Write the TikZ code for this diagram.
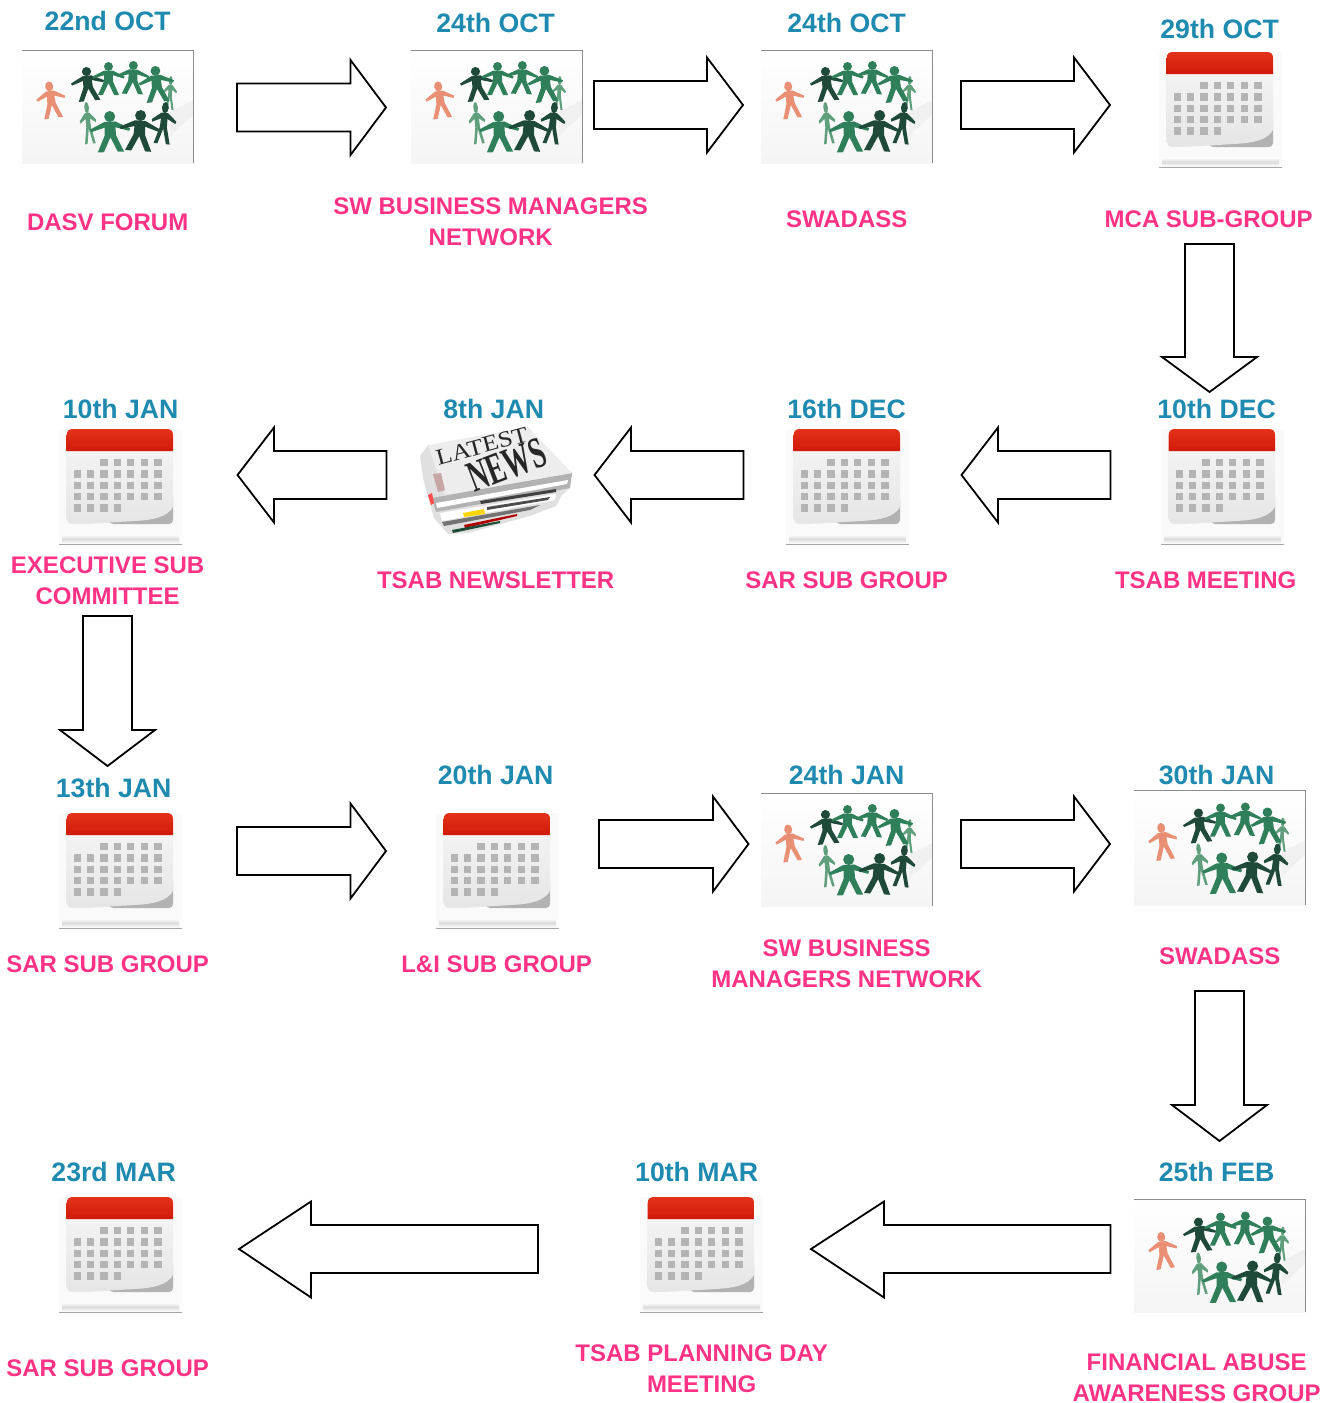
\documentclass[tikz,border=0pt]{standalone}
\usepackage{fontspec}
\setmainfont{Liberation Sans}
\newfontfamily\newsfont{Liberation Serif}
\definecolor{datecol}{HTML}{1F8AB0}
\definecolor{labelcol}{HTML}{FF3385}
\definecolor{pdark}{HTML}{1F4A3A}
\definecolor{pgreen}{HTML}{2F7F5A}
\definecolor{plight}{HTML}{5F9F7C}
\definecolor{porange}{HTML}{E98F74}
\definecolor{calred}{HTML}{CF1A08}
\definecolor{calredtop}{HTML}{E4321A}
\definecolor{calgrid}{HTML}{B4B4B4}
\definecolor{calcurl}{HTML}{B2B2B2}
\tikzset{
  datelabel/.style={font=\fontsize{20}{24}\selectfont\bfseries,text=datecol,inner sep=0pt,anchor=center,xshift=0.5pt},
  eventlabel/.style={font=\fontsize{18}{23.25}\selectfont\bfseries,text=labelcol,inner sep=0pt,anchor=center,align=center,xshift=0.5pt},
  blockarrow/.style={draw=black,fill=white,line width=1.35pt,line join=miter},
  iconedge/.style={draw=black!45,line width=0.6pt}
}
% right arrow: x-start, x-head, x-tip, y-centre
\newcommand\blockright[4]{\draw[blockarrow] (#1,#4-24) -- (#2,#4-24) -- (#2,#4-47.5) -- (#3,#4) -- (#2,#4+47.5) -- (#2,#4+24) -- (#1,#4+24) -- cycle;}
% down arrow: x-centre, y-start, y-head, y-tip
\newcommand\blockdown[4]{\draw[blockarrow] (#1-24.5,#2) -- (#1+24.5,#2) -- (#1+24.5,#3) -- (#1+47.5,#3) -- (#1,#4) -- (#1-47.5,#3) -- (#1-24.5,#3) -- cycle;}
% paper person: x, y (top of head), height, rotation, x-squeeze, colour
\newcommand\paperperson[6]{%
  \begin{scope}[shift={(#1,#2)},rotate=#4,scale=#3,xscale=#5]
    \fill[#6] (0,.135) circle[radius=.135];
    \fill[#6] (-.46,.50) -- (-.49,.44) -- (-.13,.26) -- (.13,.26) -- (.49,.44) -- (.46,.50)
      -- (.13,.40) -- (.14,.60) -- (.32,1) -- (.17,1) -- (0,.64) -- (-.17,1) -- (-.32,1)
      -- (-.14,.60) -- (-.13,.40) -- cycle;
  \end{scope}}
% people icon: x, y (top left), height, vertical shift of the figures
\newcommand\peopleicon[4]{%
  \begin{scope}[shift={(#1,#2)}]
    \shade[top color=white,bottom color=black!4] (0,0) rectangle (171.5,#3);
    \fill[black!6] (148,62) -- (171.5,50) -- (171.5,64) -- (148,86) -- cycle;
    \draw[iconedge] (0,0) -- (171.5,0) -- (171.5,#3);
    \begin{scope}[shift={(0,#4)}]
      \paperperson{26.5}{31.5}{37}{8}{.8}{porange}
      \paperperson{149}{26}{34}{-3}{.4}{plight}
      \paperperson{64}{17}{34}{6}{1}{pdark}
      \paperperson{86.5}{12}{33}{0}{1}{pgreen}
      \paperperson{111.5}{11}{33}{-2}{1}{pgreen}
      \paperperson{133}{16}{36}{5}{1}{pgreen}
      \paperperson{64}{52}{42}{6}{.4}{plight}
      \paperperson{87.5}{61}{41}{2}{1}{pgreen}
      \paperperson{119}{60}{41}{-4}{1}{pdark}
      \paperperson{144}{52}{42}{-6}{.6}{pdark}
    \end{scope}
  \end{scope}}
% calendar icon: x, y (top left)
\newcommand\calendaricon[2]{%
  \begin{scope}[shift={(#1,#2)}]
    \fill[black!2] (0,0) rectangle (123,115);
    \shade[top color=black!2,bottom color=black!2,middle color=black!14] (3,106) rectangle (120,114);
    \draw[draw=black!35,line width=0.6pt] (0,115) -- (123,115);
    \fill[calcurl,rounded corners=3pt] (50,95) -- (50,85) -- (114,65) -- (114,95) -- cycle;
    \shade[top color=black!5,bottom color=black!10] (7.7,22) -- (114,22) -- (114,78) .. controls (108,88) and (95,91) .. (75,92)
      .. controls (50,93.5) and (30,95) .. (14,95) .. controls (10,95) and (7.7,93) .. (7.7,90) -- cycle;
    \shade[top color=calredtop,bottom color=calred] (7.7,22) -- (7.7,6) .. controls (7.7,2) and (10,0) .. (14,0)
      -- (107.7,0) .. controls (112,0) and (114,2) .. (114,6) -- (114,22) -- cycle;
    \foreach \cx in {41.3,54.7,68,82,95.3} {\fill[calgrid] (\cx,30) rectangle ++(7.3,7.3);}
    \foreach \ry in {41.3,52.7,64} {\foreach \cx in {15,28,41.3,54.7,68,82,95.3} {\fill[calgrid] (\cx,\ry) rectangle ++(7.3,7.3);}}
    \foreach \cx in {15,28,41.3,54.7} {\fill[calgrid] (\cx,75.3) rectangle ++(7.3,7.3);}
  \end{scope}}
\newcommand\newsicon{%
  \fill[black!12] (428,445) -- (420,456) -- (423,478) -- (428,497) -- (434,518) -- (448,534) -- (468,533) -- (530,516) -- (556,506) -- (562,495) -- (570,488) -- (572,473) -- cycle;
  \fill[black!30] (432,498) -- (572,473) -- (570,488) -- (436,512) -- cycle;
  \fill[white] (436,503) -- (568,480) -- (567,484) -- (437,508) -- cycle;
  \fill[black!75] (480,501) -- (556,489) -- (556,492) -- (481,504) -- cycle;
  \fill[white] (440,513) -- (556,494) -- (555,500) -- (442,521) -- cycle;
  \fill[black!70] (487,507) -- (550,497) -- (548,500) -- (487,510) -- cycle;
  \fill[yellow!75!orange] (463,513) -- (484,509) -- (485,514) -- (464,517) -- cycle;
  \fill[black!55] (442,522) -- (540,505) -- (530,510) -- (444,526) -- cycle;
  \fill[red!70!black] (464,525) -- (517,514) -- (517,516) -- (465,528) -- cycle;
  \fill[pgreen!60!black] (452,530) -- (500,521) -- (500,523) -- (453,533) -- cycle;
  \fill[red!70] (428,495) -- (432,493) -- (434,503) -- (431,505) -- cycle;
  \fill[black!7] (428,445) -- (528,427) -- (572,473) -- (445,495) -- cycle;
  \fill[red!40!black!35] (433,474) -- (441,473) -- (445,490) -- (438,492) -- cycle;
  \node[rotate=15,inner sep=0pt,text=black!85] (latest) at (482,446) {\scalebox{1.15}[1]{\newsfont\fontsize{17}{17}\selectfont LATEST}};
  \node[rotate=21,inner sep=0pt,text=black!85] (news) at (507,465) {\scalebox{.62}[1]{\newsfont\bfseries\fontsize{33}{33}\selectfont NEWS}};}
\begin{document}
\begin{tikzpicture}[x=0.75pt,y=-0.75pt]
\useasboundingbox (0,0) rectangle (1331,1403);
% row 1
\peopleicon{22}{50}{113}{0}
\peopleicon{411}{50}{113}{0}
\peopleicon{761}{50}{113}{0}
\calendaricon{1159}{52}
\blockright{237}{350.5}{386}{107.5}
\blockright{594}{707}{743}{105}
\blockright{961}{1074}{1110}{105}
\blockdown{1209.5}{244}{357}{392}
\node[datelabel] (d1) at (107,21) {22nd OCT};
\node[datelabel] (d2) at (495,23) {24th OCT};
\node[datelabel] (d3) at (846,23) {24th OCT};
\node[datelabel] (d4) at (1219,29) {29th OCT};
\node[eventlabel] (e1) at (107,222) {DASV FORUM};
\node[eventlabel] (e2) at (490,221.5) {SW BUSINESS MANAGERS\\NETWORK};
\node[eventlabel] (e3) at (846,219) {SWADASS};
\node[eventlabel] (e4) at (1208,219) {MCA SUB-GROUP};
% row 2
\calendaricon{1161}{429}
\calendaricon{786}{429}
\calendaricon{59}{429}
\newsicon
\draw[blockarrow] (1110.5,451) -- (998,451) -- (998,427.5) -- (961.5,475) -- (998,522.5) -- (998,499) -- (1110.5,499) -- cycle;
\draw[blockarrow] (743.5,451) -- (631,451) -- (631,427.5) -- (594.5,475) -- (631,522.5) -- (631,499) -- (743.5,499) -- cycle;
\draw[blockarrow] (386.5,451) -- (274,451) -- (274,427.5) -- (237.5,475) -- (274,522.5) -- (274,499) -- (386.5,499) -- cycle;
\blockdown{107.5}{616}{730}{766}
\node[datelabel] (d5) at (1216,409) {10th DEC};
\node[datelabel] (d6) at (846,409) {16th DEC};
\node[datelabel] (d7) at (493,409) {8th JAN};
\node[datelabel] (d8) at (120,409) {10th JAN};
\node[eventlabel] (e5) at (1205,580) {TSAB MEETING};
\node[eventlabel] (e6) at (846,580) {SAR SUB GROUP};
\node[eventlabel] (e7) at (495,580) {TSAB NEWSLETTER};
\node[eventlabel] (e8) at (107,580.5) {EXECUTIVE SUB\\COMMITTEE};
% row 3
\calendaricon{59}{813}
\calendaricon{436}{813}
\peopleicon{761}{793}{113}{0}
\peopleicon{1134}{790}{115}{1.5}
\blockright{237}{350.5}{386}{851}
\blockright{599}{713}{748.5}{844}
\blockright{961}{1074}{1110}{844}
\blockdown{1219.5}{991}{1105}{1141}
\node[datelabel] (d9) at (113,788) {13th JAN};
\node[datelabel] (d10) at (495,775) {20th JAN};
\node[datelabel] (d11) at (846,775) {24th JAN};
\node[datelabel] (d12) at (1216,775) {30th JAN};
\node[eventlabel] (e9) at (107,964) {SAR SUB GROUP};
\node[eventlabel] (e10) at (496,964) {L\&I SUB GROUP};
\node[eventlabel] (e11) at (846,963.5) {SW BUSINESS\\MANAGERS NETWORK};
\node[eventlabel] (e12) at (1219,956) {SWADASS};
% row 4
\calendaricon{59}{1197}
\calendaricon{640}{1197}
\peopleicon{1134}{1199}{113}{1.5}
\draw[blockarrow] (1110.5,1225) -- (884,1225) -- (884,1201.5) -- (811,1249) -- (884,1297.5) -- (884,1273) -- (1110.5,1273) -- cycle;
\draw[blockarrow] (538,1225) -- (311,1225) -- (311,1201.5) -- (239,1249) -- (311,1297.5) -- (311,1273) -- (538,1273) -- cycle;
\node[datelabel] (d13) at (113,1172) {23rd MAR};
\node[datelabel] (d14) at (696,1172) {10th MAR};
\node[datelabel] (d15) at (1216,1172) {25th FEB};
\node[eventlabel] (e13) at (107,1368) {SAR SUB GROUP};
\node[eventlabel] (e14) at (701,1368.5) {TSAB PLANNING DAY\\MEETING};
\node[eventlabel] (e15) at (1196,1378) {FINANCIAL ABUSE\\AWARENESS GROUP};
\end{tikzpicture}
\end{document}
